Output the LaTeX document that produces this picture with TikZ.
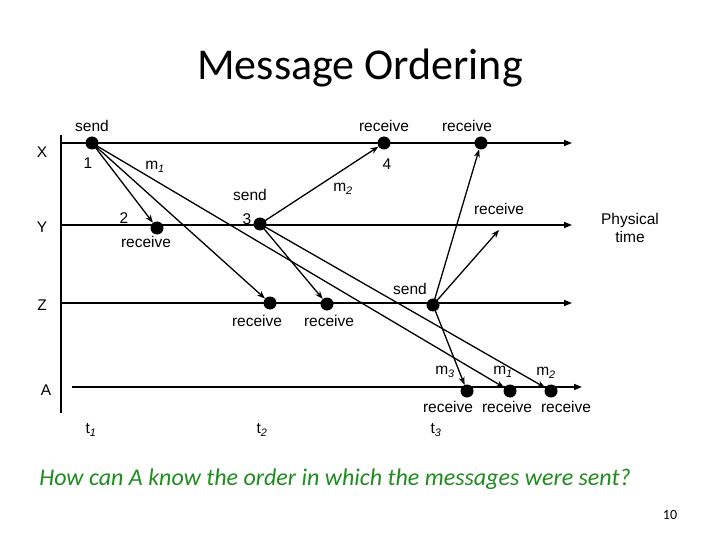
\documentclass[tikz,border=0pt]{standalone}
\usepackage{fontspec}
\setmainfont{Liberation Sans}
\newfontfamily\calfont{Carlito}
\usetikzlibrary{arrows.meta}
\definecolor{qgreen}{RGB}{30,140,30}
\begin{document}
\begin{tikzpicture}[x=1pt,y=-1pt,
  tl/.style={line width=1.6pt,-{Triangle[length=8pt,width=6pt]}},
  msg/.style={line width=1.3pt,-{Stealth[length=8pt,width=6pt]}},
  ev/.style={circle,fill=black,inner sep=0pt,minimum size=13pt},
  lb/.style={font=\fontsize{15.5}{18}\selectfont,inner sep=0pt},
  pt/.style={inner sep=0pt,minimum size=0pt}]
\useasboundingbox (0,0) rectangle (720,540);
\node[font=\calfont\fontsize{44}{48}\selectfont] (title) at (360,68) {Message Ordering};
\coordinate (ax1) at (61,135); \coordinate (ax2) at (61,413);
\draw[line width=1.6pt] (ax1) -- (ax2);
\coordinate (X0) at (62,143); \coordinate (X1) at (572,143);
\coordinate (Y0) at (62,225); \coordinate (Y1) at (572,225);
\coordinate (Z0) at (62,303); \coordinate (Z1) at (572,303);
\coordinate (A0) at (72,387); \coordinate (A1) at (582,387);
\draw[tl] (X0) -- (X1); \draw[tl] (Y0) -- (Y1); \draw[tl] (Z0) -- (Z1); \draw[tl] (A0) -- (A1);
\node[ev] (xs) at (92,143) {};
\node[ev] (yr) at (157,228) {};
\node[ev] (zr1) at (270,303) {};
\node[ev] (zr2) at (327,304) {};
\node[ev] (ys) at (260,224) {};
\node[ev] (xr1) at (384,143) {};
\node[ev] (xr2) at (481,143) {};
\node[ev] (zs) at (433,305) {};
\node[ev] (ar1) at (467,391) {};
\node[ev] (ar2) at (510,391) {};
\node[ev] (ar3) at (551,391) {};
\coordinate (yr2) at (499,230);
\draw[msg] (xs.center) -- (yr);
\draw[msg] (xs.center) -- (zr1);
\draw[msg] (xs.center) -- (ar2);
\draw[msg] (ys.center) -- (xr1);
\draw[msg] (ys.center) -- (zr2);
\draw[msg] (ys.center) -- (ar3);
\draw[msg] (zs.center) -- (xr2);
\draw[msg] (zs.center) -- (yr2);
\draw[msg] (zs.center) -- (ar1);
\node[lb] (l1) at (92,126) {send};
\node[lb] (l2) at (88,163) {1};
\node[lb] (l3) at (155,167) {m\textsubscript{\itshape 1}};
\node[lb] (l4) at (124,218) {2};
\node[lb] (l5) at (146,242) {receive};
\node[lb] (l6) at (250,195) {send};
\node[lb] (l7) at (247,219) {3};
\node[lb] (l8) at (343,189) {m\textsubscript{\itshape 2}};
\node[lb] (l9) at (384,126) {receive};
\node[lb] (l10) at (387,164) {4};
\node[lb] (l11) at (467,126) {receive};
\node[lb] (l12) at (499,209) {receive};
\node[lb,align=center] (l13) at (630,228) {Physical\\time};
\node[lb] (l14) at (410,289) {send};
\node[lb] (l15) at (257,321) {receive};
\node[lb] (l16) at (329,321) {receive};
\node[lb] (l17) at (445,372) {m\textsubscript{\itshape 3}};
\node[lb] (l18) at (503,372) {m\textsubscript{\itshape 1}};
\node[lb] (l19) at (546,373) {m\textsubscript{\itshape 2}};
\node[lb] (l20) at (448,407) {receive};
\node[lb] (l21) at (507,407) {receive};
\node[lb] (l22) at (566,407) {receive};
\node[lb] (lx) at (42,152) {X};
\node[lb] (ly) at (42,227) {Y};
\node[lb] (lz) at (42,305) {Z};
\node[lb] (la) at (46,390) {A};
\node[lb] (t1) at (91,430) {t\textsubscript{\itshape 1}};
\node[lb] (t2) at (262,430) {t\textsubscript{\itshape 2}};
\node[lb] (t3) at (436,430) {t\textsubscript{\itshape 3}};
\node[font=\calfont\itshape\fontsize{24}{28}\selectfont,text=qgreen] (q) at (335,479) {How can A know the order in which the messages were sent?};
\node[font=\calfont\fontsize{14}{16}\selectfont] (pg) at (670,515) {10};
\end{tikzpicture}
\end{document}
